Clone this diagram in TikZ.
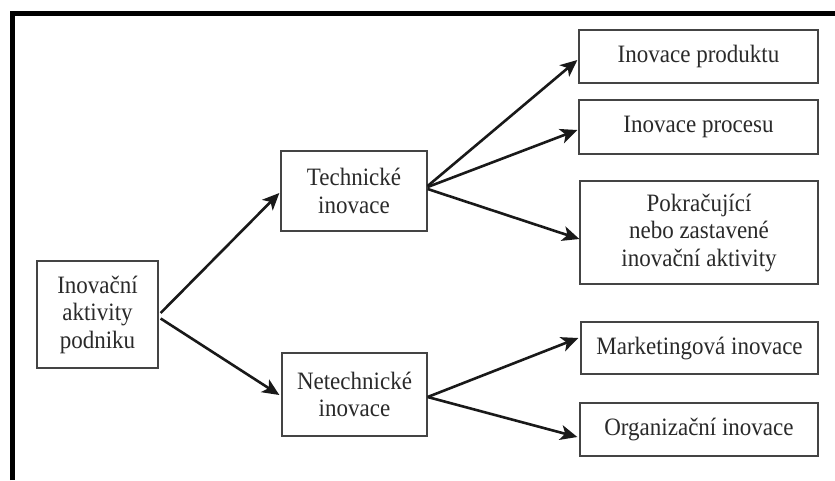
\documentclass[tikz,border=0pt]{standalone}
\usepackage{fontspec}
\setmainfont{Liberation Serif}[FakeStretch=0.92]
\usetikzlibrary{arrows.meta,calc}
\definecolor{txt}{HTML}{2A2A2A}
\definecolor{bord}{HTML}{444444}
\begin{document}
\begin{tikzpicture}[x=1pt,y=-1pt,
  box/.style={draw=bord,line width=1.3pt,fill=white,inner sep=0pt,align=center,
    text=txt,font=\fontsize{25}{27.5}\selectfont},
  arr/.style={line width=2.6pt,draw=black!90,-{Stealth[length=17pt,width=15pt,inset=4.5pt]}}]
\useasboundingbox (0,0) rectangle (835,480);
\draw[line width=5pt,line join=miter] (12.5,480) -- (12.5,13.5) -- (835,13.5);
\node[box,minimum width=121pt,minimum height=107pt] (A) at (97.5,314.5) {Inovační\\aktivity\\podniku};
\node[box,minimum width=146pt,minimum height=80pt] (T) at (354,191) {Technické\\inovace};
\node[box,minimum width=145pt,minimum height=83pt] (N) at (354.5,394.5) {Netechnické\\inovace};
\node[box,minimum width=239pt,minimum height=53pt] (P1) at (698.5,56.5) {Inovace produktu};
\node[box,minimum width=239pt,minimum height=54pt] (P2) at (698.5,127) {Inovace procesu};
\node[box,minimum width=238pt,minimum height=103pt] (P3) at (699,232.5) {Pokračující\\nebo zastavené\\inovační aktivity};
\node[box,minimum width=237pt,minimum height=52pt] (M) at (699.5,348) {Marketingová inovace};
\node[box,minimum width=238pt,minimum height=53pt] (O) at (699,429.5) {Organizační inovace};
\draw[arr] ($(A.east)+(2,-1.5)$) -- ($(T.west)+(-1,2)$);
\draw[arr] ($(A.east)+(2,4)$) -- ($(N.west)+(-2,0.5)$);
\draw[arr] ($(T.east)+(0,-5)$) -- ($(P1.west)+(-1,3.5)$);
\draw[arr] ($(T.east)+(0,-4)$) -- ($(P2.west)+(-1,3)$);
\draw[arr] ($(T.east)+(0,-2)$) -- ($(P3.west)+(0,6.5)$);
\draw[arr] ($(N.east)+(0,2.5)$) -- ($(M.west)+(-2,-10)$);
\draw[arr] ($(N.east)+(0,2.5)$) -- ($(O.west)+(-2,7.5)$);
\end{tikzpicture}
\end{document}
